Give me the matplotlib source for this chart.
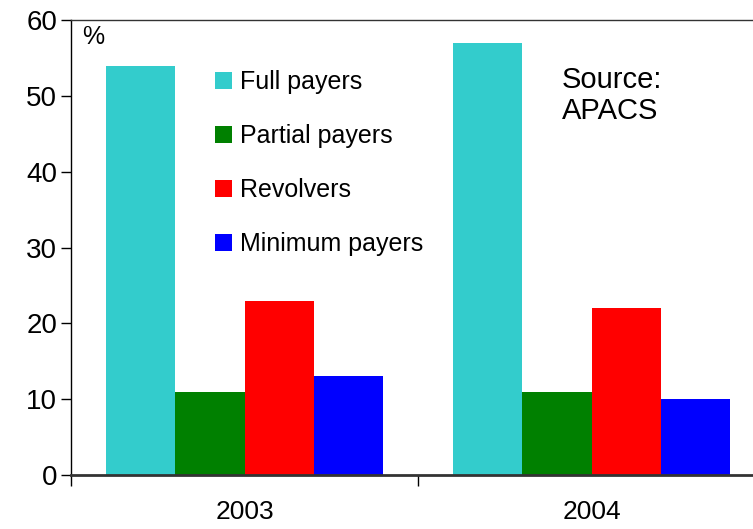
import matplotlib
matplotlib.use('Agg')
import matplotlib.pyplot as plt
import numpy as np

years = ['2003', '2004']
series = ['Full payers', 'Partial payers', 'Revolvers', 'Minimum payers']
values = {
    'Full payers': [54, 57],
    'Partial payers': [11, 11],
    'Revolvers': [23, 22],
    'Minimum payers': [13, 10],
}
colors = ['#33CCCC', '#008000', '#FF0000', '#0000FF']

plt.rcParams['font.family'] = ['Liberation Sans', 'DejaVu Sans']

fig = plt.figure(figsize=(7.53, 5.29), dpi=100)
ax = fig.add_axes([71 / 753, 54 / 529, 694 / 753, 455 / 529])

x = np.arange(len(years))
w = 0.2
for i, (name, c) in enumerate(zip(series, colors)):
    ax.bar(x + (i - 1.5) * w, values[name], width=w, color=c, label=name,
           linewidth=0)

ax.set_xlim(-0.5, 1.5)
ax.set_ylim(0, 60)
ax.set_yticks(range(0, 61, 10))
ax.tick_params(axis='y', labelsize=20, length=7, width=1, direction='out',
               pad=3)

# category boundaries as major ticks, labels on minor ticks
ax.set_xticks([-0.5, 0.5, 1.5])
ax.set_xticklabels([])
ax.set_xticks(x, minor=True)
ax.set_xticklabels(years, minor=True)
ax.tick_params(axis='x', which='major', length=8, width=1, direction='out')
ax.tick_params(axis='x', which='minor', length=0, labelsize=19, pad=18)

ax.spines['left'].set_linewidth(1)
ax.spines['top'].set_linewidth(1)
ax.spines['top'].set_color('#333333')
ax.spines['bottom'].set_linewidth(2)
ax.spines['bottom'].set_color('#333333')
ax.spines['right'].set_visible(False)

ax.text(0.016, 0.99, '%', transform=ax.transAxes, fontsize=18,
        va='top', ha='left')
ax.text(0.707, 0.90, 'Source:\nAPACS', transform=ax.transAxes, fontsize=21,
        va='top', ha='left', linespacing=1.18)

ax.legend(loc='upper left', bbox_to_anchor=(0.208, 0.89), frameon=False,
          fontsize=18, handlelength=0.68, handleheight=0.68,
          handletextpad=0.3, labelspacing=1.2, borderpad=0,
          borderaxespad=0)

fig.savefig('out.png', dpi=100)
